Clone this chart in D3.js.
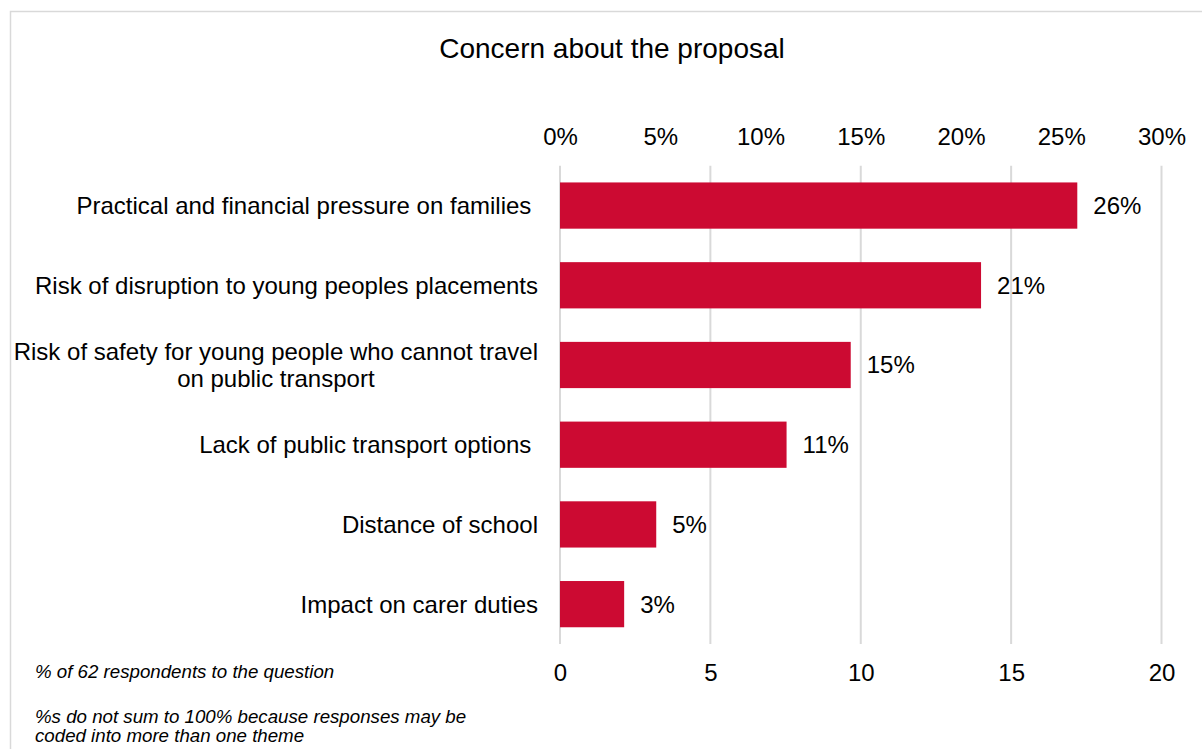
<!DOCTYPE html>
<html><head><meta charset="utf-8">
<script src="https://cdn.jsdelivr.net/npm/d3@7"></script>
<style>
html,body{margin:0;padding:0;background:#fff;}
svg{display:block;font-family:"Liberation Sans",Arial,sans-serif;}
</style></head>
<body><svg id="chart" width="1202" height="749"></svg>
<script>
const categories = [
  ["Practical and financial pressure on families "],
  ["Risk of disruption to young peoples placements"],
  ["Risk of safety for young people who cannot travel", "on public transport"],
  ["Lack of public transport options "],
  ["Distance of school"],
  ["Impact on carer duties"]
];
const values = [25.8, 21.0, 14.5, 11.3, 4.8, 3.2];       // percent of respondents
const valueLabels = ["26%", "21%", "15%", "11%", "5%", "3%"];
const topTicks = [0, 5, 10, 15, 20, 25, 30];
const bottomTicks = [0, 5, 10, 15, 20];
const title = "Concern about the proposal";
const notes = ["% of 62 respondents to the question",
               "%s do not sum to 100% because responses may be",
               "coded into more than one theme"];

const svg = d3.select("#chart");
const x0 = 560, x1 = 1161.5, yTop = 165.7, yBot = 644;
const barColor = "#CC0A32";
const FS = 24;

svg.append("rect").attr("x",10.5).attr("y",11.5).attr("width",1200).attr("height",760)
  .attr("fill","#fff").attr("stroke","#d9d9d9").attr("stroke-width",1.5);

const xPct = d3.scaleLinear().domain([0,30]).range([x0,x1]);
const xCnt = d3.scaleLinear().domain([0,20]).range([x0,x1]);
const keys = categories.map((c,i)=>i);
const y = d3.scaleBand().domain(keys).range([yTop,yBot]).paddingInner(0.42).paddingOuter(0.21);

// gridlines
svg.append("g").selectAll("line").data(bottomTicks).join("line")
  .attr("x1",d=>xCnt(d)).attr("x2",d=>xCnt(d)).attr("y1",yTop).attr("y2",yBot)
  .attr("stroke","#d9d9d9").attr("stroke-width",2);

// top axis
const gTop = svg.append("g").attr("transform",`translate(0,137)`)
  .call(d3.axisTop(xPct).tickValues(topTicks).tickSize(0).tickPadding(0).tickFormat(d=>d+"%"));
gTop.select(".domain").remove();
gTop.selectAll("text").attr("font-size",FS).attr("fill","#000").attr("font-family","Liberation Sans, Arial, sans-serif")
  .attr("dy","0.35em").attr("y",0);

// bottom axis
const gBot = svg.append("g").attr("transform",`translate(0,673)`)
  .call(d3.axisBottom(xCnt).tickValues(bottomTicks).tickSize(0).tickPadding(0));
gBot.select(".domain").remove();
gBot.selectAll("text").attr("font-size",FS).attr("fill","#000").attr("font-family","Liberation Sans, Arial, sans-serif")
  .attr("dy","0.35em").attr("y",0);

// bars
svg.append("g").selectAll("rect").data(values).join("rect")
  .attr("x",xPct(0)).attr("y",(d,i)=>y(i)).attr("width",d=>xPct(d)-xPct(0)).attr("height",y.bandwidth())
  .attr("fill",barColor);

// value labels
svg.append("g").selectAll("text").data(values).join("text")
  .attr("x",d=>xPct(d)+16).attr("y",(d,i)=>y(i)+y.bandwidth()/2).attr("dy","0.35em")
  .attr("font-size",FS).attr("fill","#000").text((d,i)=>valueLabels[i]);

// category labels
const labelRight = 538;
categories.forEach((lines,i)=>{
  const cy = y(i)+y.bandwidth()/2;
  const lh = 27;
  const g = svg.append("g");
  if (lines.length === 1) {
    g.append("text").attr("x",labelRight).attr("y",cy).attr("dy","0.35em")
      .attr("text-anchor","end").attr("font-size",FS).style("white-space","pre").text(lines[0]);
  } else {
    const t0 = g.append("text").attr("x",labelRight).attr("y",cy-lh/2).attr("dy","0.35em")
      .attr("text-anchor","end").attr("font-size",FS).style("white-space","pre").text(lines[0]);
    const w = t0.node().getComputedTextLength();
    const cx = labelRight - w/2;
    for (let k=1;k<lines.length;k++){
      g.append("text").attr("x",cx).attr("y",cy-lh/2+k*lh).attr("dy","0.35em")
        .attr("text-anchor","middle").attr("font-size",FS).style("white-space","pre").text(lines[k]);
    }
  }
});

// title
svg.append("text").attr("x",612).attr("y",48).attr("dy","0.35em").attr("text-anchor","middle")
  .attr("font-size",28).attr("fill","#000").text(title);

// notes
const noteY = [671, 716, 735];
svg.append("g").selectAll("text").data(notes).join("text")
  .attr("x",35).attr("y",(d,i)=>noteY[i]).attr("dy","0.35em")
  .attr("font-size",18.7).attr("font-style","italic").attr("fill","#000").text(d=>d);
</script></body></html>
